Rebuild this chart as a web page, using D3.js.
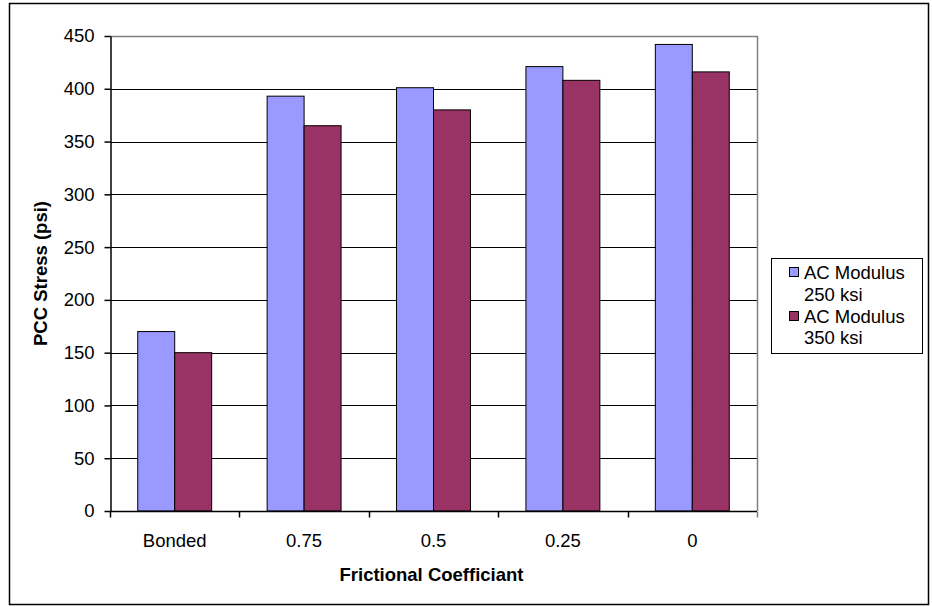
<!DOCTYPE html>
<html>
<head>
<meta charset="utf-8">
<script src="https://cdn.jsdelivr.net/npm/d3@7"></script>
<style>
  html, body { margin: 0; padding: 0; background: #fff; }
  svg { display: block; font-family: "Liberation Sans", Arial, sans-serif; }
</style>
</head>
<body>
<svg id="chart" width="932" height="607"></svg>
<script>
// Frictional coefficient categories and PCC stress per AC modulus
const categories = ["Bonded", "0.75", "0.5", "0.25", "0"];
const seriesNames = ["AC Modulus 250 ksi", "AC Modulus 350 ksi"];
const legendLines = [["AC Modulus", "250 ksi"], ["AC Modulus", "350 ksi"]];
const stress250 = [170, 393, 401, 421, 442];
const stress350 = [150, 365, 380, 408, 416];
const yTicks = [0, 50, 100, 150, 200, 250, 300, 350, 400, 450];
const colors = ["#9999ff", "#993366"];

const svg = d3.select("#chart");
const fontSize = 18.5;

// outer chart frame
svg.append("rect")
  .attr("x", 9.5).attr("y", 3.5).attr("width", 919).attr("height", 601)
  .attr("fill", "#fff").attr("stroke", "#000").attr("stroke-width", 1.5);

const plot = { left: 110, right: 757, top: 36, bottom: 511 };

const x = d3.scaleBand().domain(categories).range([plot.left, plot.right]).paddingInner(0).paddingOuter(0);
const groupPad = 0.75 / 3.5; // gap on each side of a pair, as fraction of the category
const x1 = d3.scaleBand().domain(seriesNames)
  .range([x.bandwidth() * groupPad, x.bandwidth() * (1 - groupPad)]);
const y = d3.scaleLinear().domain([0, 450]).range([plot.bottom, plot.top]);

// horizontal gridlines
svg.append("g").selectAll("line")
  .data(yTicks.filter(d => d > 0 && d < 450))
  .join("line")
  .attr("x1", plot.left).attr("x2", plot.right)
  .attr("y1", d => Math.round(y(d)) + 0.5).attr("y2", d => Math.round(y(d)) + 0.5)
  .attr("stroke", "#000").attr("stroke-width", 1);

// plot area border (top and right, grey)
svg.append("path")
  .attr("d", `M${plot.left},${Math.round(y(450)) + 0.5}H${plot.right + 0.5}V${plot.bottom}`)
  .attr("fill", "none").attr("stroke", "#808080").attr("stroke-width", 1.5);

// bars
const series = [stress250, stress350];
const groups = svg.append("g").selectAll("g")
  .data(categories)
  .join("g")
  .attr("transform", d => `translate(${x(d)},0)`);

groups.selectAll("rect")
  .data((d, i) => seriesNames.map((s, j) => ({ s, j, v: series[j][i] })))
  .join("rect")
  .attr("x", d => x1(d.s))
  .attr("width", x1.bandwidth())
  .attr("y", d => y(d.v))
  .attr("height", d => y(0) - y(d.v))
  .attr("fill", d => colors[d.j])
  .attr("stroke", "#000").attr("stroke-width", 1);

// y axis
const yAxis = d3.axisLeft(y).tickValues(yTicks).tickSize(6).tickPadding(10).tickSizeOuter(0);
const yg = svg.append("g").attr("transform", `translate(${plot.left + 0.5},0)`).call(yAxis);
yg.select(".domain").attr("stroke", "#000").attr("stroke-width", 1.5);
yg.selectAll(".tick line").attr("stroke", "#000").attr("stroke-width", 1.5);
yg.selectAll(".tick text").attr("font-size", fontSize).attr("fill", "#000")
  .attr("font-family", "Liberation Sans, Arial, sans-serif");

// x axis with ticks on category boundaries
const xg = svg.append("g").attr("transform", `translate(0,${plot.bottom + 0.5})`);
xg.append("line").attr("x1", plot.left).attr("x2", plot.right)
  .attr("stroke", "#000").attr("stroke-width", 1.5);
const boundaries = categories.map(c => x(c)).concat([plot.right]);
xg.selectAll("line.tk").data(boundaries).join("line").attr("class", "tk")
  .attr("x1", d => Math.round(d) + 0.5).attr("x2", d => Math.round(d) + 0.5)
  .attr("y1", 0).attr("y2", 6)
  .attr("stroke", (d, i) => i === boundaries.length - 1 ? "#808080" : "#000")
  .attr("stroke-width", 1.5);
xg.selectAll("text").data(categories).join("text")
  .attr("x", d => x(d) + x.bandwidth() / 2)
  .attr("y", 35)
  .attr("text-anchor", "middle")
  .attr("font-size", fontSize)
  .text(d => d);

// axis titles
svg.append("text")
  .attr("x", (plot.left + plot.right) / 2 - 2).attr("y", 581)
  .attr("text-anchor", "middle").attr("font-size", fontSize).attr("font-weight", "bold")
  .text("Frictional Coefficiant");

svg.append("text")
  .attr("transform", `translate(47,${(plot.top + plot.bottom) / 2}) rotate(-90)`)
  .attr("text-anchor", "middle").attr("font-size", fontSize).attr("font-weight", "bold")
  .text("PCC Stress (psi)");

// legend
const legend = svg.append("g");
legend.append("rect")
  .attr("x", 771.5).attr("y", 258.5).attr("width", 151).attr("height", 95)
  .attr("fill", "#fff").attr("stroke", "#000").attr("stroke-width", 1);
const baselines = [[279, 301], [323, 344]];
legendLines.forEach((lines, i) => {
  legend.append("rect")
    .attr("x", 789.5).attr("y", baselines[i][0] - 11.5)
    .attr("width", 9).attr("height", 9)
    .attr("fill", colors[i]).attr("stroke", "#000").attr("stroke-width", 1);
  lines.forEach((t, k) => {
    legend.append("text")
      .attr("x", 804).attr("y", baselines[i][k])
      .attr("font-size", fontSize).text(t);
  });
});
</script>
</body>
</html>
